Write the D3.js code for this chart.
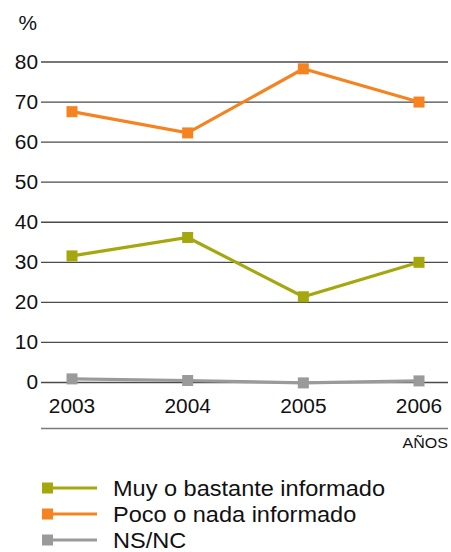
<!DOCTYPE html>
<html>
<head>
<meta charset="utf-8">
<script src="https://cdn.jsdelivr.net/npm/d3@7"></script>
<style>
  html, body { margin: 0; padding: 0; background: #fff; }
  svg { display: block; }
  text { font-family: "Liberation Sans", Arial, sans-serif; fill: #111; }
</style>
</head>
<body>
<svg id="chart" width="451" height="552"></svg>
<script>
const years = ["2003", "2004", "2005", "2006"];
const seriesNames = ["Muy o bastante informado", "Poco o nada informado", "NS/NC"];
const muy = [31.6, 36.2, 21.4, 30];
const poco = [67.6, 62.3, 78.3, 70];
const nsnc = [0.9, 0.5, -0.1, 0.4];
const colors = ["#a5a70f", "#f5831f", "#9a9a9a"];
const yTicks = [0, 10, 20, 30, 40, 50, 60, 70, 80];
const yUnit = "%";
const xUnit = "AÑOS";

const series = [muy, poco, nsnc];
const SX = 1.07; // horizontal text stretch of the reference

const svg = d3.select("#chart");
const x = d3.scalePoint().domain(years).range([72, 419]);
const y = d3.scaleLinear().domain([0, 80]).range([382.5, 62]);
const gridL = 41, gridR = 448;

// gridlines
svg.append("g").selectAll("line").data(yTicks).join("line")
  .attr("x1", gridL).attr("x2", gridR)
  .attr("y1", d => y(d)).attr("y2", d => y(d))
  .attr("stroke", "#4a4a4a").attr("stroke-width", 1.3);

// y tick labels
svg.append("g").selectAll("text").data(yTicks).join("text")
  .attr("transform", d => `translate(38,${y(d)}) scale(${SX},1)`)
  .attr("text-anchor", "end").attr("dy", "0.35em")
  .style("font-size", "19.5px").text(d => d);

svg.append("text")
  .attr("transform", `translate(37,30) scale(${SX},1)`)
  .attr("text-anchor", "end")
  .style("font-size", "19.5px").text(yUnit);

// x labels
svg.append("g").selectAll("text").data(years).join("text")
  .attr("transform", (d, i) => `translate(${Math.min(Math.max(x(d), 65), 423)},413) scale(${SX},1)`)
  .attr("text-anchor", "middle")
  .style("font-size", "19.5px").text(d => d);

svg.append("line")
  .attr("x1", gridL).attr("x2", gridR).attr("y1", 428.5).attr("y2", 428.5)
  .attr("stroke", "#7a7a7a").attr("stroke-width", 1.6);

svg.append("text")
  .attr("transform", `translate(448,448) scale(${SX},1)`)
  .attr("text-anchor", "end")
  .style("font-size", "15px").text(xUnit);

// lines (draw gray first, then green, then orange on top)
const line = d3.line().x((d, i) => x(years[i])).y(d => y(d));
const order = [2, 0, 1];
order.forEach(si => {
  const g = svg.append("g");
  g.append("path").datum(series[si])
    .attr("d", line).attr("fill", "none")
    .attr("stroke", colors[si]).attr("stroke-width", 3.2)
    .attr("stroke-linejoin", "miter");
  g.selectAll("rect").data(series[si]).join("rect")
    .attr("x", (d, i) => x(years[i]) - 5.5)
    .attr("y", d => y(d) - 5.5)
    .attr("width", 11).attr("height", 11)
    .attr("fill", colors[si]);
});

// legend
const legY = [488, 514, 540];
const leg = svg.append("g");
seriesNames.forEach((name, i) => {
  leg.append("line").attr("x1", 42).attr("x2", 97)
    .attr("y1", legY[i]).attr("y2", legY[i])
    .attr("stroke", colors[i]).attr("stroke-width", 3.2);
  leg.append("rect").attr("x", 42).attr("y", legY[i] - 5.5)
    .attr("width", 11).attr("height", 11).attr("fill", colors[i]);
  leg.append("text")
    .attr("transform", `translate(113,${legY[i]}) scale(${SX},1)`)
    .attr("dy", "0.35em")
    .style("font-size", "22px").text(name);
});
</script>
</body>
</html>
